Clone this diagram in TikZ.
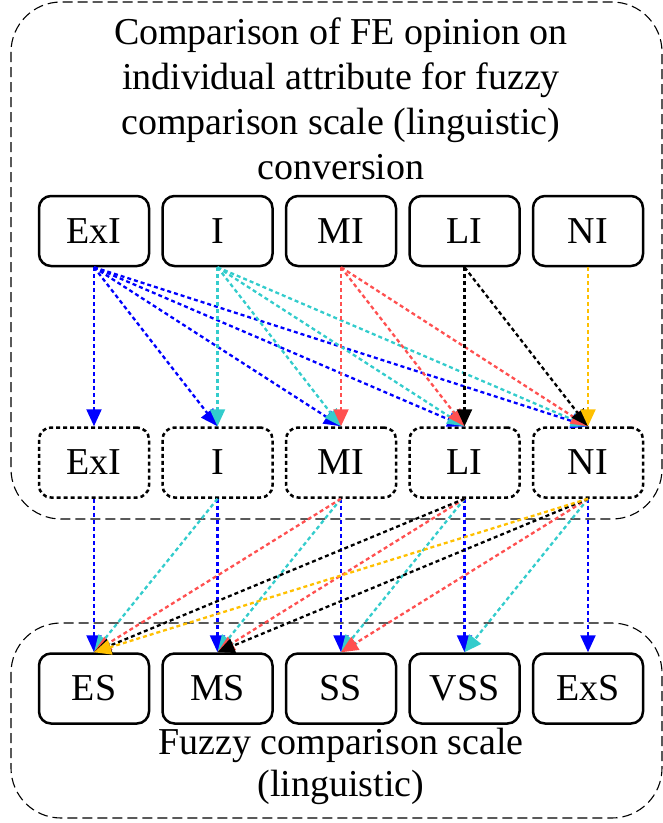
\documentclass[tikz,border=0pt]{standalone}
\usepackage{fontspec}
\setmainfont{Liberation Serif}
\usetikzlibrary{arrows.meta}
\definecolor{cblue}{RGB}{0,0,255}
\definecolor{ccyan}{RGB}{51,204,204}
\definecolor{cred}{RGB}{255,80,80}
\definecolor{cgold}{RGB}{255,192,0}
\begin{document}
\begin{tikzpicture}[x=1pt,y=-1pt,
  box/.style={draw, line width=2.5pt, rounded corners=12pt, minimum width=110pt,
    minimum height=70pt, inner sep=0pt, font=\rmfamily\fontsize{38}{45}\selectfont},
  mbox/.style={box, dash pattern=on 4pt off 3pt},
  container/.style={draw, line width=1.1pt, dash pattern=on 10pt off 5pt, rounded corners=50pt},
  link/.style={line width=2.3pt, dash pattern=on 4pt off 3pt, -{Triangle[length=17pt,width=15pt]}},
  txt/.style={align=center, inner sep=0pt}
]
\useasboundingbox (0,0) rectangle (663,823);
% containers
\draw[container] (11,2) rectangle (662,519);
\draw[container] (11,623) rectangle (662,818);
% texts
\node[txt, font=\rmfamily\fontsize{38}{45}\selectfont] (title) at (341,99)
  {Comparison of FE opinion on\\individual attribute for fuzzy\\comparison scale (linguistic)\\conversion};
\node[txt, font=\rmfamily\fontsize{38}{42}\selectfont] (cap) at (341,766)
  {Fuzzy comparison scale\\(linguistic)};
% top row
\node[box] (t1) at (94,231) {ExI};
\node[box] (t2) at (217.5,231) {I};
\node[box] (t3) at (341,231) {MI};
\node[box] (t4) at (464.5,231) {LI};
\node[box] (t5) at (588,231) {NI};
% middle row
\node[mbox] (m1) at (94,462.5) {ExI};
\node[mbox] (m2) at (217.5,462.5) {I};
\node[mbox] (m3) at (341,462.5) {MI};
\node[mbox] (m4) at (464.5,462.5) {LI};
\node[mbox] (m5) at (588,462.5) {NI};
% bottom row
\node[box] (b1) at (94,688.5) {ES};
\node[box] (b2) at (217.5,688.5) {MS};
\node[box] (b3) at (341,688.5) {SS};
\node[box] (b4) at (464.5,688.5) {VSS};
\node[box] (b5) at (588,688.5) {ExS};
% top -> middle
\draw[link,cblue] (t1.south) -- (m1.north);
\draw[link,cblue] (t1.south) -- (m2.north);
\draw[link,cblue] (t1.south) -- (m3.north);
\draw[link,cblue] (t1.south) -- (m4.north);
\draw[link,cblue] (t1.south) -- (m5.north);
\draw[link,ccyan] (t2.south) -- (m2.north);
\draw[link,ccyan] (t2.south) -- (m3.north);
\draw[link,ccyan] (t2.south) -- (m4.north);
\draw[link,ccyan] (t2.south) -- (m5.north);
\draw[link,cred] (t3.south) -- (m3.north);
\draw[link,cred] (t3.south) -- (m4.north);
\draw[link,cred] (t3.south) -- (m5.north);
\draw[link,black] (t4.south) -- (m4.north);
\draw[link,black] (t4.south) -- (m5.north);
\draw[link,cgold] (t5.south) -- (m5.north);
% middle -> bottom
\draw[link,cblue] (m1.south) -- (b1.north);
\draw[link,cblue] (m2.south) -- (b2.north);
\draw[link,cblue] (m3.south) -- (b3.north);
\draw[link,cblue] (m4.south) -- (b4.north);
\draw[link,cblue] (m5.south) -- (b5.north);
\draw[link,ccyan] (m2.south) -- (b1.north);
\draw[link,ccyan] (m3.south) -- (b2.north);
\draw[link,ccyan] (m4.south) -- (b3.north);
\draw[link,ccyan] (m5.south) -- (b4.north);
\draw[link,cred] (m3.south) -- (b1.north);
\draw[link,cred] (m4.south) -- (b2.north);
\draw[link,cred] (m5.south) -- (b3.north);
\draw[link,black] (m4.south) -- (b1.north);
\draw[link,black] (m5.south) -- (b2.north);
\draw[link,cgold] (m5.south) -- (b1.north);
\end{tikzpicture}
\end{document}
